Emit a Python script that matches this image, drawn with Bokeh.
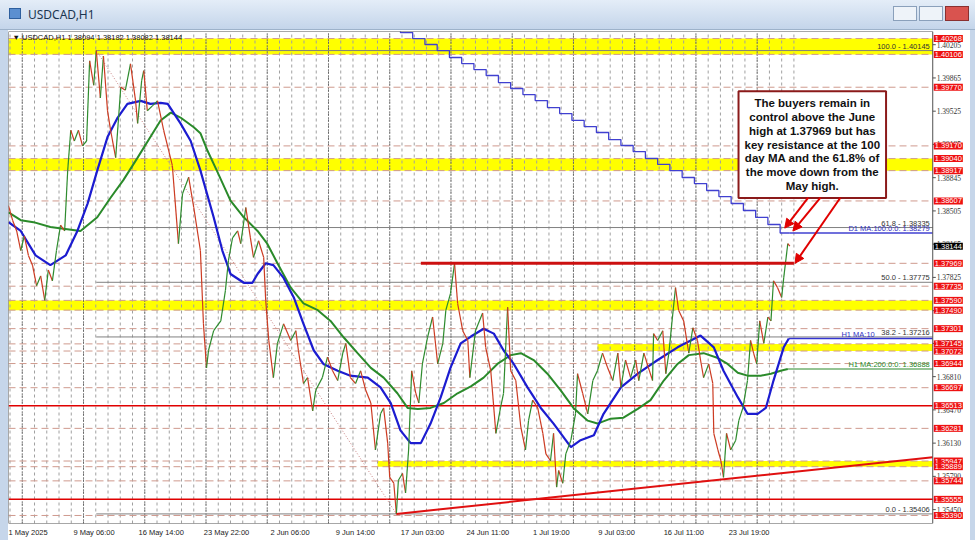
from bokeh.plotting import figure
from bokeh.models import Range1d, FixedTicker, Label, Arrow, NormalHead, Div
from bokeh.layouts import column, row
from bokeh.embed import file_html
from bokeh.resources import INLINE

# ---------------- data (x = hourly bar index since 1 May 2025 00:00) ----------------
price_bar = [0, 8, 16, 24, 31, 39, 47, 55, 63, 71,
             78, 86, 94, 102, 110, 116, 122, 129, 137, 145,
             153, 159, 167, 172, 180, 186, 194, 200, 210, 220,
             229, 239, 249, 253, 261, 265, 272, 282, 292, 304,
             314, 321, 333, 341, 353, 363, 376, 382, 388, 392,
             402, 416, 425, 431, 439, 449, 455, 465, 474, 480,
             490, 500, 504, 510, 519, 527, 539, 553, 563, 568,
             578, 586, 596, 602, 615, 625, 635, 645, 655, 661,
             670, 680, 690, 700, 710, 719, 729, 735, 743, 747,
             755, 760, 764, 772, 778, 784, 790, 798, 804, 811,
             821, 831, 841, 851, 857, 866, 874, 880, 890, 900,
             904, 915, 929, 935, 945, 955, 964, 970, 978, 984,
             994, 1004, 1013, 1019, 1027, 1037, 1047, 1053, 1062, 1068,
             1074, 1078, 1086, 1092, 1102, 1111, 1115, 1125, 1135, 1145,
             1154, 1164, 1174, 1184, 1194, 1200, 1209, 1219, 1229, 1235,
             1245, 1254, 1262, 1264, 1272, 1282, 1288, 1294, 1301, 1307,
             1313, 1323, 1333, 1341, 1350, 1356, 1362, 1372, 1380, 1382,
             1390, 1396, 1401, 1407, 1415, 1425, 1431, 1439, 1448, 1454,
             1460, 1466, 1472, 1480, 1488, 1494, 1499, 1507, 1515, 1519,
             1527, 1531]
price_val = [1.3856, 1.3841, 1.3830, 1.3810, 1.3825, 1.3805, 1.3795, 1.3774, 1.3784, 1.3759,
             1.3790, 1.3779, 1.3810, 1.3836, 1.3830, 1.3892, 1.3933, 1.3922, 1.3933, 1.3917,
             1.3922, 1.4004, 1.3979, 1.40145, 1.3966, 1.4009, 1.3953, 1.3933, 1.3905, 1.3977,
             1.3974, 1.4001, 1.3963, 1.3940, 1.3984, 1.3994, 1.3953, 1.3958, 1.3963, 1.3933,
             1.3912, 1.3897, 1.3817, 1.3868, 1.3885, 1.3854, 1.3810, 1.3735, 1.3690, 1.3708,
             1.3728, 1.3738, 1.3769, 1.3800, 1.3823, 1.3830, 1.3817, 1.3854, 1.3823, 1.3803,
             1.3820, 1.3803, 1.3759, 1.3718, 1.3680, 1.3715, 1.3735, 1.3718, 1.3728, 1.3708,
             1.3674, 1.3680, 1.3646, 1.3667, 1.3680, 1.3701, 1.3687, 1.3677, 1.3705, 1.3715,
             1.3680, 1.3674, 1.3687, 1.3667, 1.3654, 1.3606, 1.3643, 1.3649, 1.3613, 1.3578,
             1.3572, 1.35406, 1.3575, 1.3582, 1.3562, 1.3606, 1.3687, 1.3664, 1.3654, 1.3694,
             1.3721, 1.3742, 1.3694, 1.3715, 1.3749, 1.3766, 1.37969, 1.3756, 1.3728, 1.3718,
             1.3680, 1.3728, 1.3746, 1.3711, 1.3687, 1.3623, 1.3649, 1.3664, 1.3752, 1.3687,
             1.3677, 1.3629, 1.3606, 1.3636, 1.3657, 1.3649, 1.3623, 1.3602, 1.3595, 1.3623,
             1.3568, 1.3585, 1.3572, 1.3602, 1.3616, 1.3643, 1.3684, 1.3664, 1.3643, 1.3677,
             1.3687, 1.3705, 1.3690, 1.3677, 1.3705, 1.3670, 1.3698, 1.3680, 1.3698, 1.3677,
             1.3705, 1.3690, 1.3677, 1.3725, 1.3718, 1.3728, 1.3684, 1.3705, 1.3742, 1.3772,
             1.3749, 1.3738, 1.3705, 1.3731, 1.3718, 1.3698, 1.3680, 1.3694, 1.3674, 1.3623,
             1.3606, 1.3595, 1.3578, 1.3623, 1.3606, 1.3616, 1.3636, 1.3649, 1.3677, 1.3718,
             1.3705, 1.3694, 1.3738, 1.3715, 1.3742, 1.3738, 1.3779, 1.3772, 1.3762, 1.3782,
             1.3817, 1.38144]

ma100_bar = [0, 24, 53, 82, 112, 135, 155, 174, 194, 214,
             233, 259, 278, 298, 312, 337, 357, 376, 402, 419,
             435, 461, 478, 488, 504, 519, 539, 559, 578, 598,
             617, 645, 670, 704, 729, 749, 768, 788, 808, 827,
             847, 866, 886, 906, 931, 951, 970, 990, 1017, 1043,
             1068, 1102, 1121, 1147, 1166, 1200, 1233, 1272, 1311, 1356,
             1382, 1401, 1429, 1448, 1468, 1484, 1499, 1519, 1529]
ma100_val = [1.3839, 1.3830, 1.3805, 1.3795, 1.3805, 1.3830, 1.3858, 1.3892, 1.3926, 1.3946,
             1.3960, 1.3963, 1.3960, 1.3961, 1.3960, 1.3940, 1.3922, 1.3892, 1.3844, 1.3810,
             1.3786, 1.3777, 1.3777, 1.3786, 1.3797, 1.3795, 1.3782, 1.3762, 1.3735, 1.3708,
             1.3694, 1.3687, 1.3682, 1.3680, 1.3670, 1.3654, 1.3626, 1.3613, 1.3613, 1.3633,
             1.3660, 1.3690, 1.3715, 1.3722, 1.3730, 1.3725, 1.3708, 1.3694, 1.3670, 1.3649,
             1.3633, 1.3609, 1.3616, 1.3621, 1.3643, 1.3670, 1.3684, 1.3698, 1.3711, 1.3723,
             1.3711, 1.3687, 1.3660, 1.3643, 1.3643, 1.3649, 1.3677, 1.3711, 1.3720]

ma200_bar = [0, 24, 49, 82, 141, 174, 200, 225, 253, 278,
             298, 318, 337, 363, 376, 390, 408, 435, 461, 488,
             507, 527, 553, 578, 606, 631, 657, 684, 710, 735,
             762, 782, 802, 827, 853, 880, 906, 931, 958, 984,
             1004, 1029, 1056, 1082, 1107, 1135, 1154, 1180, 1205, 1233,
             1258, 1284, 1311, 1333, 1362, 1390, 1409, 1429, 1448, 1474,
             1494, 1513, 1527]
ma200_val = [1.3849, 1.3841, 1.3839, 1.3834, 1.3830, 1.3844, 1.3864, 1.3882, 1.3905, 1.3926,
             1.3943, 1.3951, 1.3946, 1.3936, 1.3930, 1.3912, 1.3892, 1.3861, 1.3844, 1.3830,
             1.3817, 1.3797, 1.3772, 1.3756, 1.3749, 1.3738, 1.3721, 1.3705, 1.3690, 1.3680,
             1.3664, 1.3649, 1.3648, 1.3649, 1.3654, 1.3664, 1.3671, 1.3680, 1.3694, 1.3703,
             1.3705, 1.3698, 1.3684, 1.3667, 1.3649, 1.3636, 1.3633, 1.3638, 1.3639, 1.3648,
             1.3657, 1.3677, 1.3694, 1.3703, 1.3705, 1.3700, 1.3694, 1.3685, 1.3682, 1.3682,
             1.3684, 1.3687, 1.36888]

# daily 100-day MA (one value per trading day)
d1ma_bar = [744, 768, 792, 816, 840, 864, 888, 912, 936, 960,
            984, 1008, 1032, 1056, 1080, 1104, 1128, 1152, 1176, 1200,
            1224, 1248, 1272, 1296, 1320, 1344, 1368, 1392, 1416, 1440,
            1464, 1488, 1512]
d1ma_val = [1.40391, 1.40329, 1.40268, 1.40207, 1.40145, 1.40074, 1.40012, 1.39951, 1.39890, 1.39818,
            1.39757, 1.39695, 1.39634, 1.39562, 1.39501, 1.39430, 1.39368, 1.39307, 1.39235, 1.39174,
            1.39112, 1.39041, 1.38980, 1.38918, 1.38847, 1.38785, 1.38714, 1.38652, 1.38581, 1.38509,
            1.38438, 1.38366, 1.38279]

red_levels = [1.40268, 1.40106, 1.39770, 1.39170, 1.39040, 1.38917, 1.38607, 1.37969,
              1.37735, 1.37590, 1.37490, 1.37301, 1.37145, 1.37072, 1.36944, 1.36697,
              1.36513, 1.36281, 1.35947, 1.35889, 1.35744, 1.35555, 1.35390]
solid_levels = [1.36513, 1.35555]

zone_top = [1.40268, 1.39040, 1.37590, 1.37145, 1.35947]
zone_bottom = [1.40106, 1.38917, 1.37490, 1.37072, 1.35889]
zone_start = [0, 0, 0, 1154, 723]

fib_names = ["100.0", "61.8", "50.0", "38.2", "0.0"]
fib_levels = [1.40145, 1.38335, 1.37775, 1.37216, 1.35406]
fib_high_bar, fib_low_bar = 172, 760

june_high = 1.37969
june_high_bar = 874
trend_bars = [760, 1401]
trend_vals = [1.35406, 1.3576]

last_price = 1.38144
d1ma_last = 1.38279
h1ma100_last = 1.37200
h1ma200_last = 1.36888

y_ticks = [1.40205, 1.39865, 1.39525, 1.39185, 1.38845, 1.38505, 1.38165, 1.37825,
           1.37485, 1.37150, 1.36810, 1.36470, 1.36130, 1.35790, 1.35450]
x_tick_bars = [0, 128, 256, 384, 512, 640, 768, 896, 1024, 1152, 1280, 1408]
x_tick_labels = ["1 May 2025", "9 May 06:00", "16 May 14:00", "23 May 22:00", "2 Jun 06:00",
                 "9 Jun 14:00", "17 Jun 03:00", "24 Jun 11:00", "1 Jul 19:00", "9 Jul 03:00",
                 "16 Jul 11:00", "23 Jul 19:00"]

note_text = ("The buyers remain in\ncontrol above the June\nhigh at 1.37969 but has\n"
             "key resistance at the 100\nday MA and the 61.8% of\nthe move down from the\nMay high.")

# ---------------- figure ----------------
X_MAX = 1811      # right edge of the chart area (price scale starts here)
X_TOTAL = 1885    # includes the price-label strip
Y_LO, Y_HI = 1.35308, 1.40340
FONT = "Liberation Sans"
SMALL = "7.5px"
FRAME_BLUE = "#c6d6ea"

p = figure(width=962, height=510, x_range=Range1d(0, X_TOTAL), y_range=Range1d(Y_LO, Y_HI),
           output_backend="svg", toolbar_location=None, y_axis_location=None,
           min_border_left=0, min_border_right=0, min_border_top=1, min_border_bottom=17,
           background_fill_color="white", border_fill_color="white")
p.outline_line_color = None
p.xgrid.visible = False
p.ygrid.visible = False

# yellow zones
p.quad(left=zone_start, right=X_MAX, top=zone_top, bottom=zone_bottom,
       fill_color="#ffff00", line_color=None)

# vertical day / week grid
last_bar = price_bar[-1]
day_lines = list(range(3, last_bar + 10, 24))
week_lines = list(range(27, last_bar + 10, 120))
p.segment(x0=day_lines, x1=day_lines, y0=Y_LO, y1=Y_HI, line_color="#a0a0a0",
          line_dash="3 3", line_width=1)
p.segment(x0=week_lines, x1=week_lines, y0=Y_LO, y1=Y_HI, line_color="#303030",
          line_dash="1 2", line_width=1)

# horizontal levels
dash_levels = [l for l in red_levels if l not in solid_levels]
p.segment(x0=0, x1=X_MAX, y0=dash_levels, y1=dash_levels, line_color="#cf9a8e",
          line_dash="7 4", line_width=1)
p.segment(x0=0, x1=X_MAX, y0=solid_levels, y1=solid_levels, line_color="#e00000",
          line_width=1.5)

# fibonacci
p.segment(x0=fib_high_bar, x1=X_MAX, y0=fib_levels, y1=fib_levels, line_color="#808080",
          line_width=1)
p.line([fib_high_bar, fib_low_bar], [fib_levels[0], fib_levels[-1]], line_color="#c88080",
       line_dash="1 2", line_width=1)

# moving averages
p.step(d1ma_bar + [last_bar], d1ma_val + [d1ma_last], mode="after", line_color="#4040d0",
       line_width=1.3)
p.segment(x0=last_bar, x1=X_MAX, y0=d1ma_last, y1=d1ma_last, line_color="#4040d0", line_width=1.5)
p.line(ma200_bar, ma200_val, line_color="#2a8a2a", line_width=2)
p.segment(x0=ma200_bar[-1], x1=X_MAX, y0=h1ma200_last, y1=h1ma200_last, line_color="#2a8a2a",
          line_width=1.2)
p.line(ma100_bar, ma100_val, line_color="#1c1cd0", line_width=2.2)
p.segment(x0=ma100_bar[-1], x1=X_MAX, y0=h1ma100_last, y1=h1ma100_last, line_color="#3535d0",
          line_width=1.5)

# price
seg_col = ["#2e8b2e" if b >= a else "#cc3b22" for a, b in zip(price_val[:-1], price_val[1:])]
p.segment(x0=price_bar[:-1], y0=price_val[:-1], x1=price_bar[1:], y1=price_val[1:],
          line_color=seg_col, line_width=1.2)

# trend line and June high
slope = (trend_vals[1] - trend_vals[0]) / (trend_bars[1] - trend_bars[0])
p.line([trend_bars[0], X_MAX], [trend_vals[0], trend_vals[0] + slope * (X_MAX - trend_bars[0])],
       line_color="#e01010", line_width=2)
p.segment(x0=june_high_bar - 66, x1=last_bar + 8, y0=june_high, y1=june_high,
          line_color="#cc1010", line_width=3)

# chart frame and price scale
p.quad(left=0, right=X_MAX, top=Y_HI, bottom=Y_LO, fill_color=None, line_color="#505050",
       line_width=1)
p.segment(x0=X_MAX, x1=X_MAX + 6, y0=y_ticks, y1=y_ticks, line_color="#505050", line_width=1)
p.text(x=X_MAX, y=y_ticks, text=[f"{v:.5f}" for v in y_ticks], x_offset=4,
       text_font=FONT, text_font_size=SMALL, text_color="#333333",
       text_align="left", text_baseline="middle")

# ---------------- x axis ----------------
# MT4 draws each date label starting at its tick; Bokeh centres labels, so the ticks
# are moved by half the label width.
x_label_pos = [b + len(l) * 3.6 for b, l in zip(x_tick_bars, x_tick_labels)]
p.xaxis.ticker = FixedTicker(ticks=x_label_pos)
p.xaxis.major_label_overrides = {pos: l for pos, l in zip(x_label_pos, x_tick_labels)}
p.xaxis.major_label_text_font = FONT
p.xaxis.major_label_text_font_size = SMALL
p.xaxis.major_label_text_color = "#222222"
p.xaxis.major_tick_in = 0
p.xaxis.major_tick_out = 0
p.xaxis.minor_tick_line_color = None
p.xaxis.axis_line_color = None
p.xaxis.major_label_standoff = 4

# ---------------- labels ----------------
for lvl in red_levels:
    p.add_layout(Label(x=X_MAX, y=lvl, x_offset=1, text=f"{lvl:.5f}", text_font=FONT,
                       text_font_size=SMALL, text_color="white", text_align="left",
                       text_baseline="middle", background_fill_color="#ee1111", padding=1))
p.add_layout(Label(x=X_MAX, y=last_price, x_offset=1, text=f"{last_price:.5f}", text_font=FONT,
                   text_font_size=SMALL, text_color="white", text_align="left",
                   text_baseline="middle", background_fill_color="#000000", padding=1))

for name, lvl in zip(fib_names, fib_levels):
    p.add_layout(Label(x=X_MAX, y=lvl, x_offset=-3, text=f"{name} - {lvl:.5f}", text_font=FONT,
                       text_font_size=SMALL, text_color="#333333", text_align="right",
                       text_baseline="bottom"))

p.add_layout(Label(x=X_MAX, y=d1ma_last, x_offset=-3, text=f"D1 MA:100:0:0: {d1ma_last:.5f}",
                   text_font=FONT, text_font_size=SMALL, text_color="#3030c0", text_align="right",
                   text_baseline="bottom"))
p.add_layout(Label(x=X_MAX, y=h1ma100_last, x_offset=-58, text="H1 MA:10",
                   text_font=FONT, text_font_size=SMALL, text_color="#3030c0", text_align="right",
                   text_baseline="bottom"))
p.add_layout(Label(x=X_MAX, y=h1ma200_last, x_offset=-3, text=f"H1 MA:200:0:0: {h1ma200_last:.5f}",
                   text_font=FONT, text_font_size=SMALL, text_color="#2a8a2a", text_align="right",
                   text_baseline="bottom"))

p.add_layout(Label(x=0, y=Y_HI, x_offset=4, y_offset=-1,
                   text=f"\u25bc USDCAD,H1  1.38094 1.38182 1.38082 {last_price:.5f}",
                   text_font=FONT, text_font_size=SMALL, text_color="#111111",
                   text_align="left", text_baseline="top"))

# annotation box and arrows
note_x, note_top = 1575, 1.3973
p.add_layout(Label(x=note_x, y=note_top, text=note_text, text_align="center", text_baseline="top",
                   text_font=FONT, text_font_style="bold", text_font_size="11.5px",
                   text_line_height=1.15, text_color="#111111",
                   background_fill_color="white", border_line_color="#8b1a1a",
                   border_line_width=2, padding=6))
box_bottom = 1.3864
arrow_specs = [(note_x - 8, box_bottom, last_bar - 10, d1ma_last + 0.0005),
               (note_x + 16, box_bottom, last_bar + 6, d1ma_last + 0.0002),
               (note_x + 55, box_bottom, last_bar + 10, june_high)]
for xs, ys, xe, ye in arrow_specs:
    p.add_layout(Arrow(end=NormalHead(size=9, fill_color="#e00000", line_color="#e00000"),
                       x_start=xs, y_start=ys, x_end=xe, y_end=ye,
                       line_color="#e00000", line_width=2))

# ---------------- window chrome ----------------
title_html = (
    '<div style="width:975px;height:30px;box-sizing:border-box;'
    'background:linear-gradient(#e4edf8,#c4d5ea);border-bottom:1px solid #9db2ca;'
    'font-family:\'Noto Sans\',sans-serif;font-size:12px;color:#1b3550;position:relative;">'
    '<span style="position:absolute;left:9px;top:8px;width:12px;height:11px;'
    'background:#5b8fd0;border:1px solid #2e5f9e;"></span>'
    '<span style="position:absolute;left:28px;top:6px;">USDCAD,H1</span>'
    '<span style="position:absolute;right:58px;top:6px;width:24px;height:15px;'
    'border:1px solid #8aa0bb;background:#eef3f9;"></span>'
    '<span style="position:absolute;right:32px;top:6px;width:24px;height:15px;'
    'border:1px solid #8aa0bb;background:#eef3f9;"></span>'
    '<span style="position:absolute;right:6px;top:6px;width:24px;height:15px;'
    'border:1px solid #8a3030;background:#d9534f;"></span>'
    '</div>')
title_bar = Div(text=title_html, width=975, height=30, margin=(0, 0, 0, 0))


def side(w, h):
    return Div(text=f'<div style="width:{w}px;height:{h}px;background:{FRAME_BLUE};"></div>',
               width=w, height=h, margin=(0, 0, 0, 0))


layout = column(title_bar, row(side(8, 510), p, side(5, 510), spacing=0), side(975, 6), spacing=0)
open("out.html", "w").write(file_html(layout, INLINE))
